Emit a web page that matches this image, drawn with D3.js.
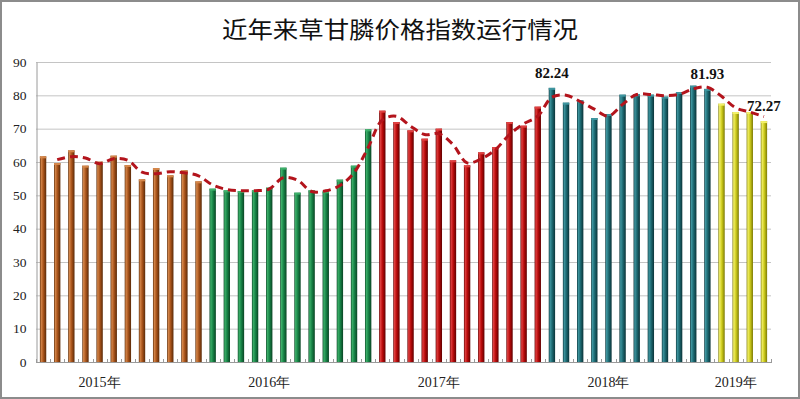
<!DOCTYPE html>
<html>
<head>
<meta charset="utf-8">
<script src="https://cdn.jsdelivr.net/npm/d3@7.9.0/dist/d3.min.js"></script>
<style>
  html, body { margin: 0; padding: 0; background: #fff; }
  svg { display: block; }
</style>
</head>
<body>
<svg id="chart" width="800" height="399"></svg>
<script>
// monthly glyphosate price index
const years = ['2015年', '2016年', '2017年', '2018年', '2019年'];
const values2015 = [61.7, 59.7, 63.5, 58.9, 60.1, 61.9, 59.1, 54.8, 58.2, 56.0, 57.5, 54.2];
const values2016 = [52.0, 51.5, 51.3, 51.5, 52.3, 58.3, 50.8, 51.5, 51.2, 54.7, 58.9, 69.8];
const values2017 = [75.4, 72.0, 69.5, 67.0, 70.0, 60.5, 59.0, 62.9, 64.5, 72.0, 70.9, 76.6];
const values2018 = [82.24, 77.8, 78.5, 73.2, 74.4, 80.2, 80.3, 80.2, 79.6, 81.0, 82.9, 81.93];
const values2019 = [77.5, 75.0, 75.0, 72.27];
const yTicks = [0, 10, 20, 30, 40, 50, 60, 70, 80, 90];
// which month (bar index) carries the year label, and which bars get a value label
const yearLabelBar = [4, 16, 28, 40, 49];
const labelledBars = [36, 47, 51];

const yearColors = [
  { base: '#A8531A', light: '#D4864A', dark: '#5A2A08' },
  { base: '#178346', light: '#3DB06A', dark: '#0A4424' },
  { base: '#B80A0A', light: '#E04040', dark: '#600000' },
  { base: '#1C6870', light: '#3F96A0', dark: '#0B3338' },
  { base: '#CDCB1A', light: '#F2F06A', dark: '#7C7A05' }
];

const months = [];
[values2015, values2016, values2017, values2018, values2019].forEach((vals, yi) => {
  vals.forEach((v) => months.push({ idx: months.length, year: yi, value: v }));
});

// 2-month moving average trendline (as in the original)
const trend = months.slice(1).map((d, k) => ({
  idx: d.idx,
  value: (months[k].value + d.value) / 2
}));

const svg = d3.select('#chart');
const plot = { left: 36, right: 771, top: 62, bottom: 362 };

const x = d3.scaleBand()
  .domain(months.map((d) => d.idx))
  .range([plot.left, plot.right])
  .paddingInner(0.55)
  .paddingOuter(0.275);
const y = d3.scaleLinear().domain([0, 90]).range([plot.bottom, plot.top]);

// gradients for the 3D-ish bars
const defs = svg.append('defs');
yearColors.forEach((c, i) => {
  const g = defs.append('linearGradient')
    .attr('id', 'bar' + i)
    .attr('x1', '0%').attr('x2', '100%').attr('y1', '0%').attr('y2', '0%');
  g.append('stop').attr('offset', '0%').attr('stop-color', c.dark);
  g.append('stop').attr('offset', '20%').attr('stop-color', c.light);
  g.append('stop').attr('offset', '55%').attr('stop-color', c.base);
  g.append('stop').attr('offset', '100%').attr('stop-color', c.dark);
});

// outer frame
svg.append('rect')
  .attr('x', 1).attr('y', 1).attr('width', 798).attr('height', 397)
  .attr('fill', '#fff').attr('stroke', '#8c8c8c').attr('stroke-width', 2);

// title
svg.append('text')
  .attr('x', 400).attr('y', 38)
  .attr('text-anchor', 'middle')
  .attr('font-family', '"Noto Sans CJK SC", sans-serif')
  .attr('font-size', 23)
  .attr('textLength', 356)
  .attr('lengthAdjust', 'spacingAndGlyphs')
  .attr('fill', '#111')
  .text('近年来草甘膦价格指数运行情况');

// grid
svg.append('g')
  .selectAll('line')
  .data(yTicks.slice(1))
  .join('line')
  .attr('x1', plot.left).attr('x2', plot.right)
  .attr('y1', (d) => y(d) + 0.5).attr('y2', (d) => y(d) + 0.5)
  .attr('stroke', '#c4c4c4').attr('stroke-width', 1);

// y axis
const yAxis = svg.append('g')
  .attr('transform', `translate(${plot.left + 0.5},0)`)
  .call(d3.axisLeft(y).tickValues(yTicks).tickSize(0).tickPadding(10));
yAxis.select('.domain').attr('stroke', '#9a9a9a');
yAxis.selectAll('text')
  .attr('font-family', '"Liberation Serif", serif')
  .attr('font-size', 13.5)
  .attr('fill', '#222');

// x axis line + small ticks between months
svg.append('line')
  .attr('x1', plot.left).attr('x2', plot.right)
  .attr('y1', plot.bottom + 0.5).attr('y2', plot.bottom + 0.5)
  .attr('stroke', '#9a9a9a');
svg.append('g')
  .selectAll('line')
  .data(d3.range(months.length + 1))
  .join('line')
  .attr('x1', (i) => Math.round(plot.left + i * x.step()) + 0.5)
  .attr('x2', (i) => Math.round(plot.left + i * x.step()) + 0.5)
  .attr('y1', plot.bottom - 3).attr('y2', plot.bottom + 1)
  .attr('stroke', '#9a9a9a');

// year labels
svg.append('g')
  .selectAll('text')
  .data(years)
  .join('text')
  .attr('x', (d, i) => x(yearLabelBar[i]) + x.bandwidth() / 2)
  .attr('y', 387)
  .attr('text-anchor', 'middle')
  .attr('font-family', '"Liberation Serif", serif')
  .attr('font-size', 14)
  .attr('fill', '#222')
  .text((d) => d);

// bars
const bars = svg.append('g');
bars.selectAll('rect.bar')
  .data(months)
  .join('rect')
  .attr('class', 'bar')
  .attr('x', (d) => x(d.idx))
  .attr('y', (d) => y(d.value))
  .attr('width', x.bandwidth())
  .attr('height', (d) => plot.bottom - y(d.value))
  .attr('fill', (d) => `url(#bar${d.year})`);
bars.selectAll('rect.cap')
  .data(months)
  .join('rect')
  .attr('class', 'cap')
  .attr('x', (d) => x(d.idx))
  .attr('y', (d) => y(d.value))
  .attr('width', x.bandwidth())
  .attr('height', 2)
  .attr('fill', (d) => yearColors[d.year].light);

// trendline
const line = d3.line()
  .x((d) => x(d.idx) + x.bandwidth() / 2)
  .y((d) => y(d.value))
  .curve(d3.curveCatmullRom.alpha(0.5));
svg.append('path')
  .datum(trend)
  .attr('d', line)
  .attr('fill', 'none')
  .attr('stroke', '#B3141C')
  .attr('stroke-width', 3)
  .attr('stroke-dasharray', '8,5');

// value labels
svg.append('g')
  .selectAll('text')
  .data(labelledBars.map((i) => months[i]))
  .join('text')
  .attr('x', (d) => x(d.idx) + x.bandwidth() / 2)
  .attr('y', (d) => y(d.value) - 10)
  .attr('text-anchor', 'middle')
  .attr('font-family', '"Liberation Serif", serif')
  .attr('font-weight', 'bold')
  .attr('font-size', 15)
  .attr('fill', '#111')
  .text((d) => d.value.toFixed(2));
</script>
</body>
</html>
